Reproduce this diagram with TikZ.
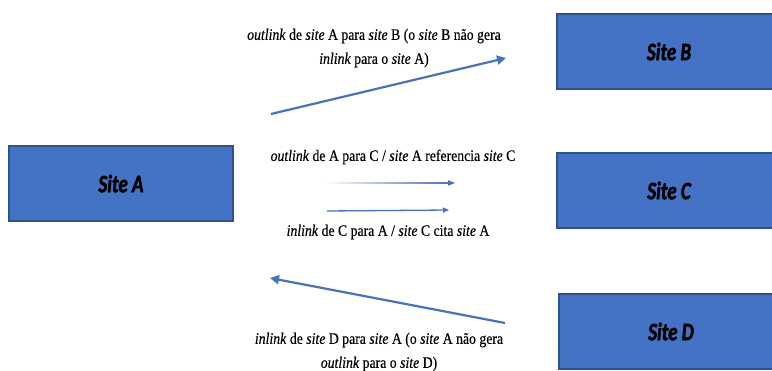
\documentclass[tikz,border=0pt]{standalone}
\usepackage{fontspec}
\setmainfont{Liberation Serif}
\newfontfamily\lblfont[FakeStretch=0.86, FakeBold=0.4]{Liberation Serif}
\newfontfamily\boxfont[FakeStretch=0.76, FakeBold=2]{Carlito Bold Italic}
\usetikzlibrary{arrows.meta}
\definecolor{boxblue}{HTML}{4472C4}
\definecolor{boxedge}{HTML}{2F528F}
\definecolor{arrblue}{HTML}{4472C4}
\tikzset{
  sitebox/.style={draw=boxedge, line width=1.5pt, fill=boxblue, minimum width=224pt, minimum height=75pt, inner sep=0pt,
    font=\boxfont\fontsize{25}{27}\selectfont},
  lbl/.style={font=\lblfont\fontsize{16}{24}\selectfont, align=center, inner sep=0pt},
  bigarrow/.style={draw=arrblue, line width=2.2pt, -{Triangle[length=9pt,width=9pt]}},
  smallarrow/.style={draw=arrblue, line width=1.3pt, -{Triangle[length=6pt,width=5pt]}},
}
\begin{document}
\begin{tikzpicture}[x=1pt,y=-1pt]
\useasboundingbox (0,0) rectangle (772,371);
\begin{scope}
\clip (0,0) rectangle (772,371);
\node[sitebox] (A) at (121,183.5) {Site A};
\node[sitebox] (B) at (669,51.5) {Site B};
\node[sitebox] (C) at (669,190.5) {Site C};
\node[sitebox] (D) at (671,331.5) {Site D};
\end{scope}

\coordinate (ab1) at (271,114);
\coordinate (ab2) at (506,58);
\draw[bigarrow] (ab1) -- (ab2);

\coordinate (ca1) at (325,183);
\coordinate (ca2) at (455,183);
\shade[left color=white, right color=arrblue] ([yshift=-0.7pt]ca1) rectangle ([yshift=0.7pt,xshift=-5pt]ca2);
\fill[arrblue] (ca2) -- ++(-7pt,-2.8pt) -- ++(0,5.6pt) -- cycle;

\coordinate (cb1) at (327,211);
\coordinate (cb2) at (449,210);
\draw[smallarrow] (cb1) -- (cb2);

\coordinate (da1) at (505,323);
\coordinate (da2) at (270,278);
\draw[bigarrow] (da1) -- (da2);

\node[lbl] (t1) at (374,48) {\textit{outlink} de \textit{site} A para \textit{site} B (o \textit{site} B não gera\\ \textit{inlink} para o \textit{site} A)};
\node[lbl] (t2) at (393,157) {\textit{outlink} de A para C / \textit{site} A referencia \textit{site} C};
\node[lbl] (t3) at (388,232) {\textit{inlink} de C para A / \textit{site} C cita \textit{site} A};
\node[lbl] (t4) at (379,352) {\textit{inlink} de \textit{site} D para \textit{site} A (o \textit{site} A não gera\\ \textit{outlink} para o \textit{site} D)};
\end{tikzpicture}
\end{document}
